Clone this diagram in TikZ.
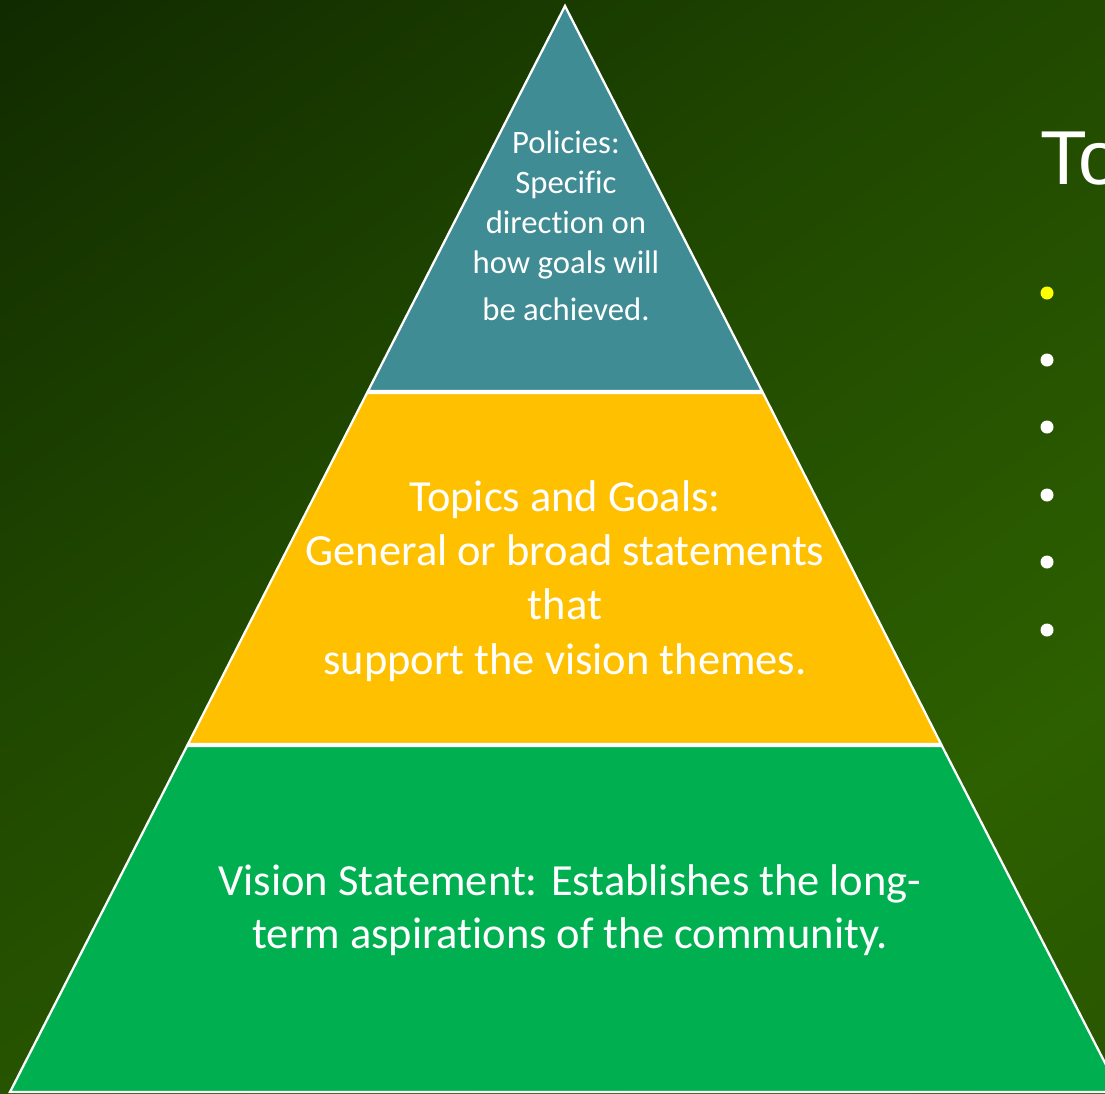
\documentclass[tikz,border=0pt]{standalone}
\usepackage{fontspec}
\setmainfont{Carlito}[RawFeature=-liga]
\newfontfamily\titlefont{Liberation Sans}
\usetikzlibrary{positioning}
\definecolor{bgA}{RGB}{8,26,0}
\definecolor{bgB}{RGB}{32,72,0}
\definecolor{bgC}{RGB}{45,96,0}
\definecolor{bgD}{RGB}{36,76,0}
\definecolor{tealtier}{RGB}{63,140,148}
\definecolor{ambertier}{RGB}{255,192,0}
\definecolor{greentier}{RGB}{0,176,80}
\definecolor{bulletyellow}{RGB}{255,255,0}
\pgfdeclarehorizontalshading{bgshade}{100bp}{color(0bp)=(bgA); color(42bp)=(bgB); color(70bp)=(bgC); color(100bp)=(bgD)}
\tikzset{%
    % tiers of the pyramid
    tier/.style     = {draw=white, line width=1.3pt, line join=miter},
    tiertext/.style = {text=white, align=center, inner sep=0pt},
    % bullets on the right
    dot/.style      = {circle, fill=white, inner sep=0pt, minimum size=0.26cm}
}
\begin{document}
\begin{tikzpicture}[x=0.02cm, y=-0.02cm]

	\clip (0,0) rectangle (1105,1093);
	\shade[shading=bgshade, shading angle=-55] (0,0) rectangle (1105,1093);

	% sommets
	\coordinate (apex) at (565,6);
	\coordinate (t1l) at (368,391);  \coordinate (t1r) at (762,391);
	\coordinate (t2l) at (367,393);  \coordinate (t2r) at (763,393);
	\coordinate (t3l) at (188,744);  \coordinate (t3r) at (941,744);
	\coordinate (t4l) at (187,746);  \coordinate (t4r) at (942,746);
	\coordinate (t5l) at (10,1092);  \coordinate (t5r) at (1120,1092);

	% etages
	\draw[tier, fill=tealtier] (apex) -- (t1r) -- (t1l) -- cycle;
	\draw[tier, fill=ambertier] (t2l) -- (t2r) -- (t3r) -- (t3l) -- cycle;
	\draw[tier, fill=greentier] (t4l) -- (t4r) -- (t5r) -- (t5l) -- cycle;

	% textes
	\node[tiertext, font=\fontsize{18.6}{22.7}\selectfont] (policies) at (566,226)
	  {Policies:\\Specific\\direction on\\how goals will\\[4pt]be achieved.};
	\node[tiertext, font=\fontsize{25.3}{30.8}\selectfont] (goals) at (565,581)
	  {Topics and Goals:\\General or broad statements\\that\\support the vision themes.};
	\node[tiertext, font=\fontsize{25.3}{30}\selectfont] (vision) at (570,910)
	  {Vision Statement: Establishes the long-\\term aspirations of the community.};

	% titre et puces
	\node[text=white, anchor=base west, inner sep=0pt, font=\titlefont\fontsize{43.5}{50}\selectfont] (title) at (1040,184) {To};
	\node[dot, fill=bulletyellow] (b1) at (1047,293) {};
	\foreach \i/\y in {2/360, 3/427, 4/495, 5/562, 6/630}
	  \node[dot] (b\i) at (1047,\y) {};

\end{tikzpicture}
\end{document}
